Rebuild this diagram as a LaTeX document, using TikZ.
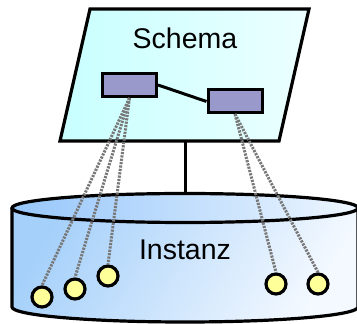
\documentclass[tikz,border=0pt]{standalone}
\usepackage{fontspec}
\setmainfont{Liberation Sans}
\usetikzlibrary{shapes.geometric}
\definecolor{schemaL}{RGB}{200,255,255}
\definecolor{schemaR}{RGB}{236,255,255}
\definecolor{cylL}{RGB}{165,208,250}
\definecolor{cylR}{RGB}{244,249,255}
\definecolor{cylTL}{RGB}{150,198,250}
\definecolor{cylTR}{RGB}{238,246,255}
\definecolor{rectfill}{RGB}{153,153,204}
\definecolor{dotfill}{RGB}{255,255,153}
\definecolor{linkgray}{RGB}{120,120,120}
\begin{document}
\begin{tikzpicture}[x=1pt,y=1pt,
  outline/.style={draw=black,line width=3.2pt,line join=miter},
  entity/.style={outline,fill=rectfill,minimum width=54pt,minimum height=23pt,inner sep=0pt,line width=3pt},
  inst/.style={circle,outline,fill=dotfill,minimum size=20pt,inner sep=0pt,line width=3.2pt},
  link/.style={draw=linkgray,line width=3pt,dash pattern=on 2.2pt off 1.2pt},
  label/.style={font=\fontsize{28.5}{30}\selectfont,inner sep=0pt}]
\useasboundingbox (0,0) rectangle (357,324);
\begin{scope}
\clip (0,0) rectangle (357,324);
% cylinder
\shade[left color=cylL,right color=cylR,shading angle=60] (12,116) -- (12,17) arc[start angle=180,end angle=360,x radius=173,y radius=15] -- (358,116) arc[start angle=0,end angle=180,x radius=173,y radius=14.5] -- cycle;
\draw[outline] (12,116) -- (12,17) arc[start angle=180,end angle=360,x radius=173,y radius=15] -- (358,116);
\shade[left color=cylTL,right color=cylTR] (185,116) ellipse[x radius=173,y radius=14.5];
\draw[outline] (185,116) ellipse[x radius=173,y radius=14.5];
\end{scope}
\node[label] (inst) at (185,74) {Instanz};
% schema plane
\coordinate (p1) at (90,315);
\coordinate (p2) at (309,315);
\coordinate (p3) at (279,183);
\coordinate (p4) at (60,183);
\shade[left color=schemaL,right color=schemaR] (p1) -- (p2) -- (p3) -- (p4) -- cycle;
\draw[outline] (p1) -- (p2) -- (p3) -- (p4) -- cycle;
\node[label] (schema) at (185,286) {Schema};
\coordinate (pb) at (185,183);
\coordinate (ct) at (185,130);
\draw[line width=3pt] (pb) -- (ct);
% entities
\node[entity] (e1) at (129.5,239) {};
\node[entity] (e2) at (235,222.5) {};
\draw[line width=3pt] (e1.east) -- (e2.west);
% instances
\node[inst] (c1) at (42,27) {};
\node[inst] (c2) at (75,35) {};
\node[inst] (c3) at (108,48) {};
\node[inst] (c4) at (276,40) {};
\node[inst] (c5) at (318,40) {};
\coordinate (s1) at (129.5,226);
\coordinate (s2) at (235,210);
\draw[link] (s1) -- (c1.north);
\draw[link] (s1) -- (c2.north);
\draw[link] (s1) -- (c3.north);
\draw[link] (s2) -- (c4.north);
\draw[link] (s2) -- (c5.north);
\end{tikzpicture}
\end{document}
